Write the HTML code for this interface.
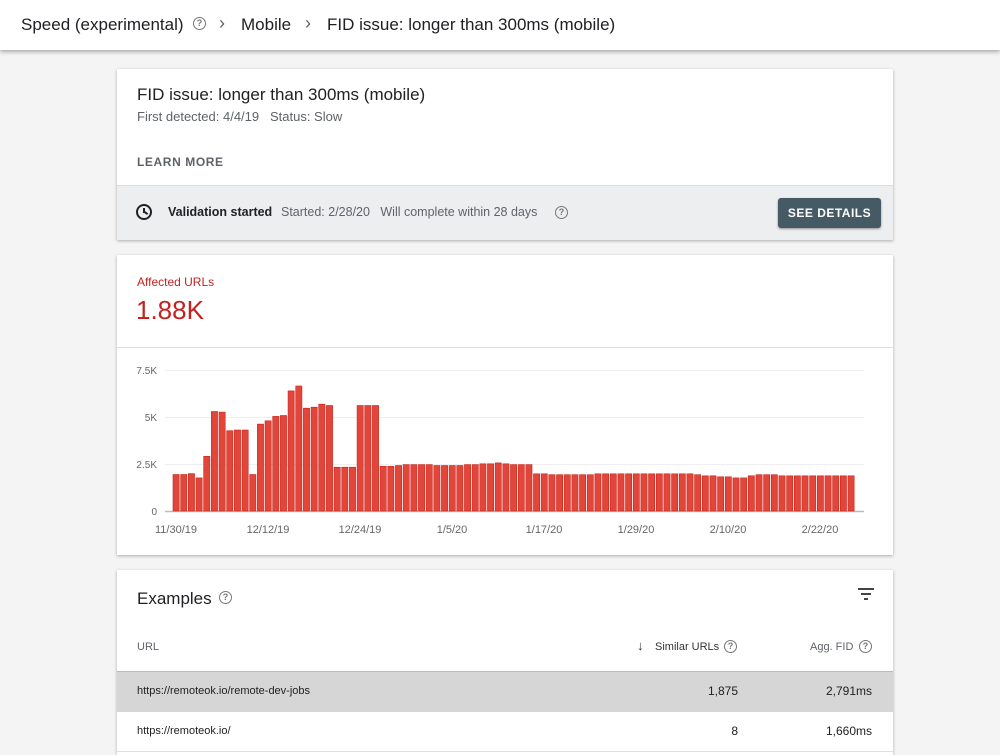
<!DOCTYPE html>
<html><head><meta charset="utf-8"><style>
*{margin:0;padding:0;box-sizing:border-box}
html,body{width:1000px;height:755px;overflow:hidden}
body{background:#f4f4f4;font-family:"Liberation Sans",Arial,sans-serif;position:relative;color:#202124}
.a{position:absolute;white-space:nowrap}
.card{position:absolute;left:117px;width:776px;background:#fff;box-shadow:0 1px 3px rgba(0,0,0,.3);overflow:hidden}
.q{position:absolute;width:13px;height:13px;border:1.3px solid #777;border-radius:50%;font-size:9px;line-height:11px;text-align:center;color:#777;font-weight:bold}
.r{position:absolute;text-align:right;white-space:nowrap}
</style></head><body>
<div class="a" style="left:0;top:0;width:1000px;height:50px;background:#fff;box-shadow:0 2px 4px rgba(0,0,0,.3)"></div>
<div class="a" style="left:21px;top:15px;font-size:17px;color:#202124">Speed (experimental)</div>
<div class="q" style="left:193px;top:17px">?</div>
<div class="a" style="left:219px;top:13px;font-size:18px;color:#5f6368">›</div>
<div class="a" style="left:241px;top:15px;font-size:17px">Mobile</div>
<div class="a" style="left:305px;top:13px;font-size:18px;color:#5f6368">›</div>
<div class="a" style="left:327px;top:15px;font-size:17px">FID issue: longer than 300ms (mobile)</div>

<div class="card" style="top:69px;height:171px">
  <div class="a" style="left:20px;top:16px;font-size:17px">FID issue: longer than 300ms (mobile)</div>
  <div class="a" style="left:20px;top:40px;font-size:13px;color:#5f6368">First detected: 4/4/19 &nbsp;&nbsp;Status: Slow</div>
  <div class="a" style="left:20px;top:86px;font-size:12px;color:#5f6368;letter-spacing:.6px;font-weight:bold">LEARN MORE</div>
  <div class="a" style="left:0;top:116px;width:776px;height:55px;background:#eceef0;border-top:1px solid #dadce0"></div>
  <div class="a" style="left:19px;top:135px;width:16px;height:16px;border:2px solid #202124;border-radius:50%"></div>
  <div class="a" style="left:26px;top:139px;width:2px;height:5px;background:#202124"></div>
  <div class="a" style="left:27px;top:143px;width:4px;height:2px;background:#202124;transform:rotate(35deg)"></div>
  <div class="a" style="left:51px;top:136px;font-size:12.5px;font-weight:bold">Validation started</div>
  <div class="a" style="left:164px;top:136px;font-size:12.5px;color:#5f6368">Started: 2/28/20 &nbsp;&nbsp;Will complete within 28 days</div>
  <div class="q" style="left:438px;top:137px">?</div>
  <div class="a" style="left:661px;top:129px;width:103px;height:30px;background:#455a64;border-radius:3px;color:#fff;font-size:12px;font-weight:bold;letter-spacing:.5px;text-align:center;line-height:30px;box-shadow:0 1px 2px rgba(0,0,0,.4)">SEE DETAILS</div>
</div>

<div class="card" style="top:255px;height:300px">
  <div class="a" style="left:20px;top:20px;font-size:12px;color:#c5221f">Affected URLs</div>
  <div class="a" style="left:19px;top:40px;font-size:26px;color:#c5221f">1.88K</div>
  <div class="a" style="left:0;top:92px;width:776px;height:1px;background:#e0e0e0"></div>
</div>
<svg class="a" style="left:0;top:0" width="1000" height="755">
  <g stroke="#eee" stroke-width="1">
    <line x1="165" x2="864" y1="370.5" y2="370.5"/><line x1="165" x2="864" y1="417.5" y2="417.5"/><line x1="165" x2="864" y1="464.5" y2="464.5"/>
  </g>
  <line x1="165" x2="864" y1="511.5" y2="511.5" stroke="#bbb" stroke-width="1.5"/>
  <g font-family="Liberation Sans, Arial, sans-serif" font-size="10" fill="#666" text-anchor="end">
    <text x="157" y="374">7.5K</text><text x="157" y="421">5K</text><text x="157" y="468">2.5K</text><text x="157" y="515">0</text>
  </g>
  <g font-family="Liberation Sans, Arial, sans-serif" font-size="11" fill="#666" text-anchor="middle">
    <text x="176" y="533">11/30/19</text><text x="268" y="533">12/12/19</text><text x="360" y="533">12/24/19</text><text x="452" y="533">1/5/20</text><text x="544" y="533">1/17/20</text><text x="636" y="533">1/29/20</text><text x="728" y="533">2/10/20</text><text x="820" y="533">2/22/20</text>
  </g>
  <g id="bars" fill="#e2463a" stroke="#c9241a" stroke-width="0.6"></g>
</svg>

<div class="card" style="top:570px;height:185px">
  <div class="a" style="left:20px;top:19px;font-size:17px">Examples</div>
  <div class="q" style="left:102px;top:21px">?</div>
  <div class="a" style="left:741px;top:18px;width:16px;height:2px;background:#444"></div>
  <div class="a" style="left:744px;top:23px;width:10px;height:2px;background:#444"></div>
  <div class="a" style="left:747px;top:28px;width:4px;height:2px;background:#444"></div>
  <div class="a" style="left:20px;top:71px;font-size:11px;color:#5f6368">URL</div>
  <div class="a" style="left:520px;top:68px;font-size:13px;color:#333">↓</div>
  <div class="a" style="left:538px;top:71px;font-size:11px;color:#333">Similar URLs</div>
  <div class="q" style="left:607px;top:70px">?</div>
  <div class="a" style="left:693px;top:71px;font-size:11px;color:#5f6368">Agg. FID</div>
  <div class="q" style="left:742px;top:70px">?</div>
  <div class="a" style="left:0;top:101px;width:776px;height:41px;background:#d6d6d6;border-top:1px solid #bbb"></div>
  <div class="a" style="left:20px;top:115px;font-size:11px;color:#202124">https://remoteok.io/remote-dev-jobs</div>
  <div class="r" style="right:155px;top:114px;font-size:12px;color:#202124">1,875</div>
  <div class="r" style="right:21px;top:114px;font-size:12px;color:#202124">2,791ms</div>
  <div class="a" style="left:20px;top:155px;font-size:11px;color:#202124">https://remoteok.io/</div>
  <div class="r" style="right:155px;top:154px;font-size:12px;color:#202124">8</div>
  <div class="r" style="right:21px;top:154px;font-size:12px;color:#202124">1,660ms</div>
  <div class="a" style="left:0;top:181px;width:776px;height:1px;background:#e0e0e0"></div>
</div>
<script>
var v=[1.94,1.94,1.99,1.76,2.91,5.29,5.26,4.27,4.31,4.31,1.94,4.62,4.8,5.03,5.08,6.39,6.65,5.47,5.52,5.68,5.61,2.33,2.33,2.33,5.61,5.61,5.61,2.38,2.38,2.42,2.47,2.47,2.47,2.47,2.42,2.42,2.42,2.42,2.47,2.47,2.51,2.51,2.56,2.51,2.47,2.47,2.47,
1.98,1.98,1.93,1.93,1.93,1.93,1.93,1.93,1.98,1.98,1.98,1.98,1.98,1.98,1.98,1.98,1.98,1.98,1.98,1.98,1.98,1.93,1.87,1.87,1.82,1.82,1.76,1.76,1.87,1.93,1.93,1.93,1.87,1.87,1.87,1.87,1.87,1.87,1.87,1.87,1.87,1.87];
var g=document.getElementById('bars'),s='';
for(var i=0;i<v.length;i++){var h=v[i]/7.5*141;var x=173+i*7.67;s+='<rect x="'+x.toFixed(2)+'" y="'+(511-h).toFixed(1)+'" width="6.2" height="'+h.toFixed(1)+'"/>';}
g.innerHTML=s;
</script>
</body></html>
